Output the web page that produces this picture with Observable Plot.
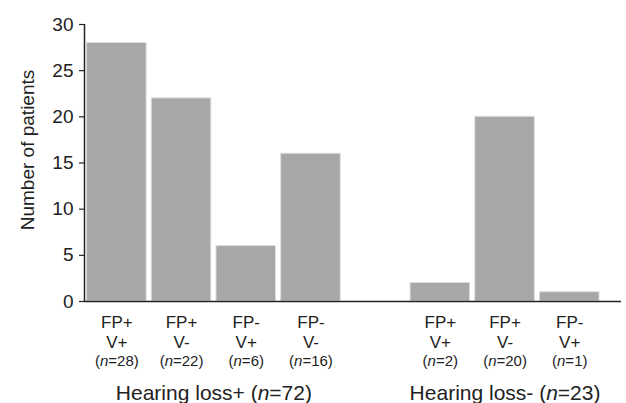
<!DOCTYPE html>
<html>
<head>
<meta charset="utf-8">
<script src="https://cdn.jsdelivr.net/npm/d3@7"></script>
<script src="https://cdn.jsdelivr.net/npm/@observablehq/plot@0.6"></script>
<style>
  html, body { margin: 0; padding: 0; background: #fff; }
  svg { font-family: "Liberation Sans", Arial, sans-serif; }
</style>
</head>
<body>
<div id="chart"></div>
<script>
// Data
const fpLabels = ["FP+", "FP+", "FP-", "FP-", "FP+", "FP+", "FP-"];
const vLabels  = ["V+",  "V-",  "V+",  "V-",  "V+",  "V-",  "V+"];
const counts   = [28, 22, 6, 16, 2, 20, 1];
const groups   = ["Hearing loss+", "Hearing loss+", "Hearing loss+", "Hearing loss+", "Hearing loss-", "Hearing loss-", "Hearing loss-"];
const groupNames = ["Hearing loss+", "Hearing loss-"];
const yTicks = [0, 5, 10, 15, 20, 25, 30];
const yLabel = "Number of patients";

// Slot index along x (an empty slot separates the two groups)
const rows = counts.map((n, i) => ({
  slot: i < 4 ? i : i + 1,
  fp: fpLabels[i], v: vLabels[i], n, group: groups[i]
}));
const groupRows = groupNames.map(g => {
  const members = rows.filter(r => r.group === g);
  return {
    group: g,
    slot: d3.mean(members, r => r.slot),
    total: d3.sum(members, r => r.n)
  };
});

const W = 0.46;
const chart = Plot.plot({
  width: 626,
  height: 403,
  marginLeft: 84,
  marginRight: 5,
  marginTop: 24,
  marginBottom: 102,
  style: {fontFamily: "Liberation Sans, Arial, sans-serif", background: "#fff", overflow: "visible"},
  x: {type: "linear", domain: [-0.5, 7.8], axis: null},
  y: {domain: [0, 30], axis: null},
  marks: [
    Plot.rectY(rows, {x1: d => d.slot - W, x2: d => d.slot + W, y1: 0, y2: "n", fill: "#a7a7a7", stroke: "#dcdcdc", strokeWidth: 1}),
    Plot.axisY(yTicks, {anchor: "left", tickSize: 5, tickPadding: 6, fontSize: 19, stroke: "#222", strokeWidth: 1.2, fill: "#222", label: null}),
    Plot.ruleX([-0.5], {y1: 0, y2: 30, stroke: "#222", strokeWidth: 1.5}),
    Plot.ruleY([0], {stroke: "#222", strokeWidth: 1.5}),
    Plot.text(rows, {x: "slot", y: 0, text: d => `${d.fp}\n${d.v}`, lineAnchor: "top", dy: 12, fontSize: 17, lineHeight: 1.18, fill: "#222"}),
    Plot.text(rows, {x: "slot", y: 0, text: d => `(n=${d.n})`, lineAnchor: "middle", dy: 60, fontSize: 15, fill: "#222", className: "nlabel"}),
    Plot.text(groupRows, {x: "slot", y: 0, text: d => `${d.group} (n=${d.total})`, lineAnchor: "middle", dy: 92, fontSize: 21, fill: "#222", className: "nlabel"}),
    Plot.text([yLabel], {frameAnchor: "left", text: d => d, rotate: -90, textAnchor: "middle", dx: -57, dy: -13, fontSize: 19, fill: "#222"})
  ]
});

// Italicise the "n" in each "(n=...)" label
d3.select(chart).selectAll(".nlabel text").each(function() {
  const s = this.textContent;
  const m = s.match(/^(.*\()n(=.*)$/);
  if (!m) return;
  this.textContent = "";
  const t = d3.select(this);
  t.append("tspan").text(m[1]);
  t.append("tspan").attr("font-style", "italic").text("n");
  t.append("tspan").text(m[2]);
});

document.getElementById("chart").appendChild(chart);
</script>
</body>
</html>
